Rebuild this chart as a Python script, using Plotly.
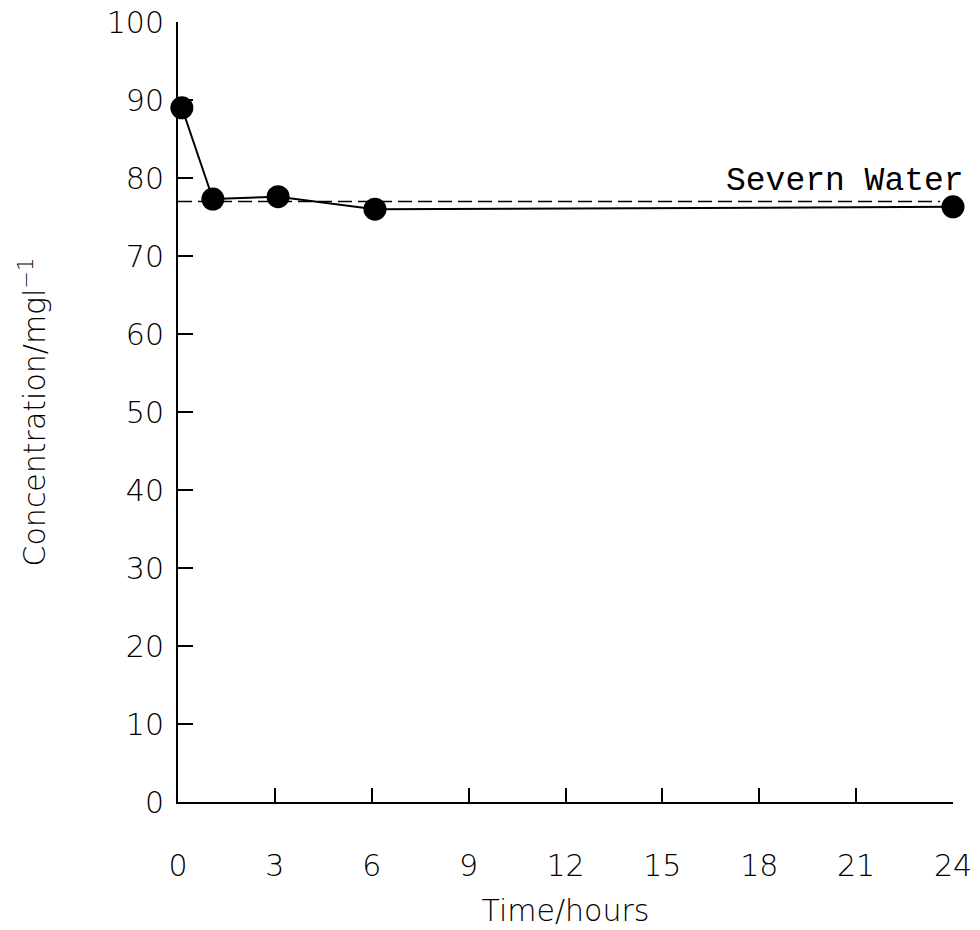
import plotly.graph_objects as go

# Data
time_hours = [0.12, 1.08, 3.1, 6.1, 24.0]
concentration = [89.0, 77.3, 77.6, 76.0, 76.3]

ref_time = [0, 23.6]
ref_conc = [77.0, 77.0]
ref_label = "Severn Water"

x_ticks = [0, 3, 6, 9, 12, 15, 18, 21, 24]
y_ticks = [0, 10, 20, 30, 40, 50, 60, 70, 80, 90, 100]

fig = go.Figure()

fig.add_trace(go.Scatter(
    x=ref_time, y=ref_conc, mode="lines",
    line=dict(color="black", width=1.5, dash="14px,6px"),
    cliponaxis=False, showlegend=False, hoverinfo="skip",
))

fig.add_trace(go.Scatter(
    x=time_hours, y=concentration, mode="lines+markers",
    line=dict(color="black", width=2),
    marker=dict(color="black", size=23),
    cliponaxis=False, showlegend=False,
))

fig.add_annotation(
    x=16.9, y=79.5, text=ref_label, showarrow=False,
    xanchor="left", yanchor="middle",
    font=dict(family="Liberation Mono", size=33, color="black"),
)

tick_font = dict(family="DejaVu Sans", size=30, color="black", weight=200)

fig.update_xaxes(
    range=[0, 24], tickvals=x_ticks, ticktext=[str(v) for v in x_ticks],
    showline=True, linecolor="black", linewidth=2,
    ticks="inside", ticklen=14, tickwidth=2, tickcolor="black",
    showgrid=False, zeroline=False, tickfont=tick_font,
    ticklabelstandoff=36, automargin=False,
    title=dict(text="Time/hours", font=tick_font, standoff=18),
)
fig.update_yaxes(
    range=[0, 100], tickvals=y_ticks, ticktext=[str(v) for v in y_ticks],
    showline=True, linecolor="black", linewidth=2,
    ticks="inside", ticklen=15, tickwidth=2, tickcolor="black",
    showgrid=False, zeroline=False, tickfont=tick_font,
    ticklabelstandoff=6, automargin=False,
    title=dict(text="Concentration/mgl<sup>−1</sup>", font=tick_font, standoff=52),
)

fig.update_layout(
    width=980, height=930,
    margin=dict(l=178, r=27, t=22, b=128),
    plot_bgcolor="white", paper_bgcolor="white",
)

fig.write_html("out.html")
